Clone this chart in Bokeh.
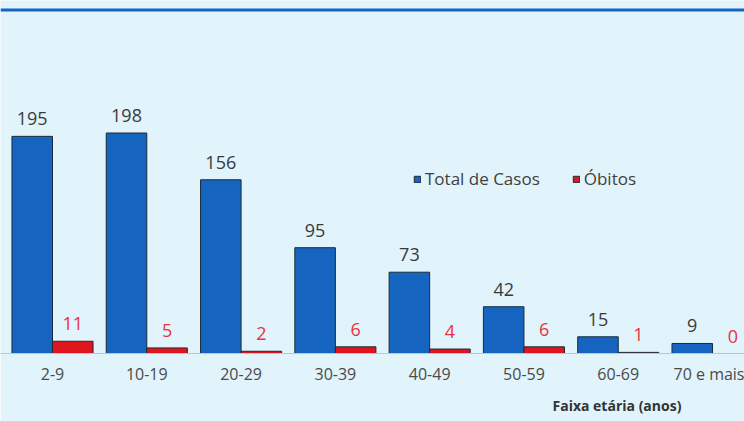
from bokeh.plotting import figure
from bokeh.models import (ColumnDataSource, FixedTicker, LabelSet, Title, Span,
                          Range1d, Legend, LegendItem)
from bokeh.core.properties import value
from bokeh.embed import file_html
from bokeh.resources import INLINE

categories = ["2-9", "10-19", "20-29", "30-39", "40-49", "50-59", "60-69", "70 e mais"]
total_casos = [195, 198, 156, 95, 73, 42, 15, 9]
obitos = [11, 5, 2, 6, 4, 6, 1, 0]

BG = "#e1f3fb"
BLUE = "#1565c0"
RED = "#e0161e"
EDGE = "#1b2b3b"
FONT = "Open Sans"

OFF = 0.215
W = 0.43
idx = list(range(len(categories)))
src = ColumnDataSource(dict(
    xb=[i - OFF for i in idx],
    xr=[i + OFF for i in idx],
    total=total_casos,
    obitos=obitos,
    total_txt=[str(v) for v in total_casos],
    obitos_txt=[str(v) for v in obitos],
))

Y_END = 317
p = figure(width=744, height=421, output_backend="svg", toolbar_location=None,
           x_range=Range1d(-0.5515, 7.339), y_range=Range1d(0, Y_END),
           y_axis_location=None,
           min_border_left=0, min_border_right=0, min_border_top=0, min_border_bottom=68,
           background_fill_color=BG, border_fill_color=BG, outline_line_color=None)
p.xgrid.visible = False
p.ygrid.visible = False

r1 = p.vbar(x="xb", top="total", width=W, source=src, fill_color=BLUE,
            line_color=EDGE, line_width=1)
r2 = p.vbar(x="xr", top="obitos", width=W, source=src, fill_color=RED,
            line_color=EDGE, line_width=1)

p.add_layout(LabelSet(x="xb", y="total", text="total_txt", source=src,
                      y_offset=11, text_align="center", text_baseline="alphabetic",
                      text_font=value(FONT), text_font_size=value("18px"),
                      text_color=value("#3a3a3a")))
p.add_layout(LabelSet(x="xr", y="obitos", text="obitos_txt", source=src,
                      y_offset=11, text_align="center", text_baseline="alphabetic",
                      text_font=value(FONT), text_font_size=value("18px"),
                      text_color=value("#e8343c")))

ax = p.xaxis[0]
ax.ticker = FixedTicker(ticks=idx)
ax.major_label_overrides = {i: c for i, c in zip(idx, categories)}
ax.major_tick_line_color = None
ax.minor_tick_line_color = None
ax.major_tick_out = 0
ax.major_label_standoff = 9
ax.axis_line_color = "#bcc6cc"
ax.axis_line_width = 1
ax.major_label_text_font = FONT
ax.major_label_text_font_size = "16px"
ax.major_label_text_color = "#4a4a4a"

legend = Legend(items=[LegendItem(label="Total de Casos", renderers=[r1]),
                       LegendItem(label="Óbitos", renderers=[r2])],
                location=(413, 163), orientation="horizontal",
                glyph_width=8, glyph_height=8, label_standoff=4, spacing=32,
                padding=0, margin=0, border_line_color=None,
                background_fill_alpha=0,
                label_text_font=FONT, label_text_font_size="17px",
                label_text_color="#404040")
p.add_layout(legend)

p.add_layout(Span(location=Y_END - 9.5 / (353 / Y_END), dimension="width",
                  line_color="#1666bf", line_width=3))

p.add_layout(Title(text="Faixa etária (anos)", align="left", offset=552, standoff=12,
                   text_font=FONT, text_font_size="14px", text_font_style="bold",
                   text_color="#333333"), "below")

open("out.html", "w").write(file_html(p, INLINE))
